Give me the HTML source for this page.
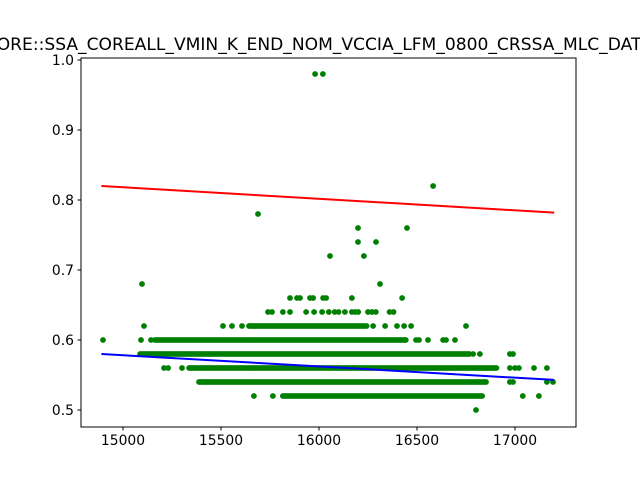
<!DOCTYPE html>
<html><head><meta charset="utf-8"><style>body{margin:0;background:#fff}svg{display:block;font-family:"DejaVu Sans","Liberation Sans",sans-serif}</style></head>
<body>
<svg id="chart" width="640" height="480">
<rect width="640" height="480" fill="#fff"/>
<text x="328.5" y="50" font-size="17.1" text-anchor="middle">ORE::SSA_COREALL_VMIN_K_END_NOM_VCCIA_LFM_0800_CRSSA_MLC_DATA_</text>
<g id="pts"></g>
<g id="lines"></g>
<rect x="81" y="58" width="495" height="369" fill="none" stroke="#000" stroke-width="1"/>
<g id="ticks"></g>
</svg>
<script>
const xTicks=[15000,15500,16000,16500,17000];
const yTicks=[0.5,0.6,0.7,0.8,0.9,1.0];
// dense bands: [y, xStart, xEnd]
const bandY=[0.60,0.58,0.56,0.54,0.52,0.62];
const bandStart=[15163,15087,15337,15388,15816,15643];
const bandEnd=[16449,16770,16908,16857,16832,16245];
// individual points
const ptX=[14898,15092,15143,16495,16510,16556,16633,16648,16694,
16786,16821,16974,16990,
15209,15230,15301,16974,17000,17020,17097,17163,
16974,16990,17163,17194,
15668,15765,17040,17122,
16801,
15107,15510,15556,15607,16276,16337,16398,16434,16470,16750,
15740,15760,15816,15852,15934,15975,16016,16050,16080,16100,16132,16168,16184,16200,16250,16270,16290,16360,16380,
15852,15888,15903,15954,15970,16021,16036,16168,16424,
15097,16311,16056,16229,16199,16291,16199,16449,15689,16582,15980,16020];
const ptY=[0.60,0.60,0.60,0.60,0.60,0.60,0.60,0.60,0.60,
0.58,0.58,0.58,0.58,
0.56,0.56,0.56,0.56,0.56,0.56,0.56,0.56,
0.54,0.54,0.54,0.54,
0.52,0.52,0.52,0.52,
0.50,
0.62,0.62,0.62,0.62,0.62,0.62,0.62,0.62,0.62,0.62,
0.64,0.64,0.64,0.64,0.64,0.64,0.64,0.64,0.64,0.64,0.64,0.64,0.64,0.64,0.64,0.64,0.64,0.64,0.64,
0.66,0.66,0.66,0.66,0.66,0.66,0.66,0.66,0.66,
0.68,0.68,0.72,0.72,0.74,0.74,0.76,0.76,0.78,0.82,0.98,0.98];
const redLine=[[14890,0.820],[17200,0.782]];
const blueLine=[[14890,0.580],[17200,0.543]];

const NS="http://www.w3.org/2000/svg";
const sx=v=>123+(v-15000)*98/500;
const sy=v=>410-(v-0.5)*700;
const pts=document.getElementById('pts');
function dot(x,y){const c=document.createElementNS(NS,'circle');
c.setAttribute('cx',sx(x).toFixed(1));c.setAttribute('cy',sy(y).toFixed(1));c.setAttribute('r',2.9);c.setAttribute('fill','#008000');


pts.appendChild(c);}
bandY.forEach((y,i)=>{for(let x=bandStart[i];x<=bandEnd[i];x+=8)dot(x,y);});
ptX.forEach((x,i)=>dot(x,ptY[i]));
const lg=document.getElementById('lines');
[[redLine,'#ff0000','red-fit-line'],[blueLine,'#0000ff','blue-fit-line']].forEach(([l,c,n])=>{
const e=document.createElementNS(NS,'line');
e.setAttribute('x1',sx(l[0][0]));e.setAttribute('y1',sy(l[0][1]));e.setAttribute('x2',sx(l[1][0]));e.setAttribute('y2',sy(l[1][1]));
e.setAttribute('stroke',c);e.setAttribute('stroke-width',2);


lg.appendChild(e);});
const tg=document.getElementById('ticks');
xTicks.forEach(v=>{const x=sx(v);
const l=document.createElementNS(NS,'line');l.setAttribute('x1',x);l.setAttribute('x2',x);l.setAttribute('y1',427);l.setAttribute('y2',430.5);l.setAttribute('stroke','#000');


tg.appendChild(l);
const t=document.createElementNS(NS,'text');t.setAttribute('x',x);t.setAttribute('y',445);t.setAttribute('font-size',13.9);t.setAttribute('text-anchor','middle');t.textContent=v;


tg.appendChild(t);});
yTicks.forEach(v=>{const y=sy(v);
const l=document.createElementNS(NS,'line');l.setAttribute('x1',77.5);l.setAttribute('x2',81);l.setAttribute('y1',y);l.setAttribute('y2',y);l.setAttribute('stroke','#000');


tg.appendChild(l);
const t=document.createElementNS(NS,'text');t.setAttribute('x',74);t.setAttribute('y',y+5);t.setAttribute('font-size',13.9);t.setAttribute('text-anchor','end');t.textContent=v.toFixed(1);


tg.appendChild(t);});
</script>
</body></html>
